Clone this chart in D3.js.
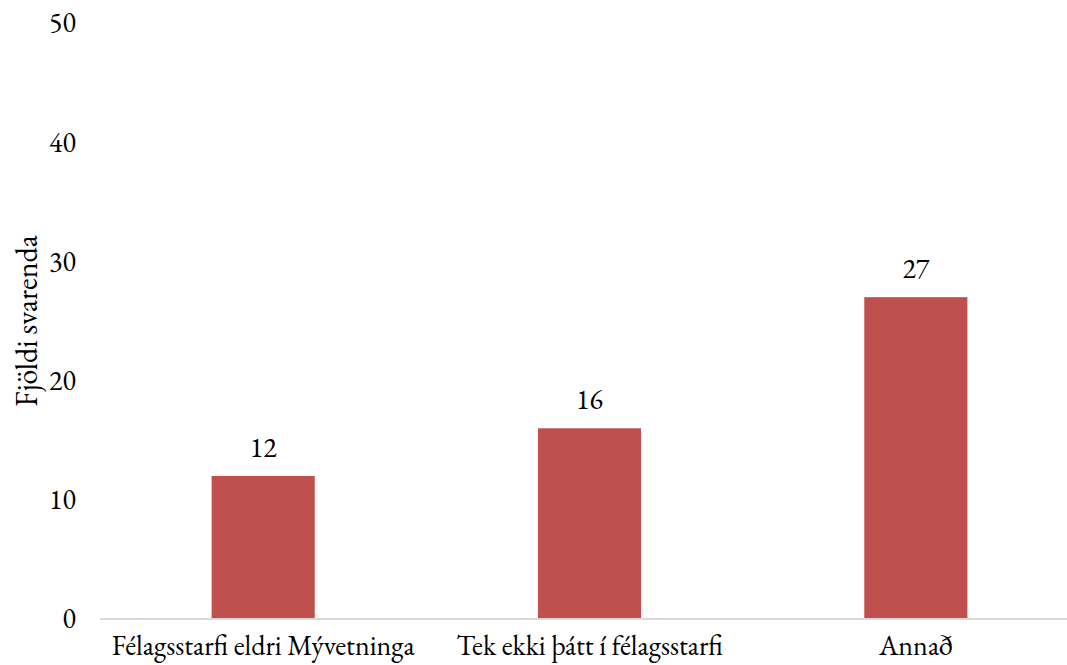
<!DOCTYPE html>
<html>
<head>
<meta charset="utf-8">
<title>Fjöldi svarenda</title>
<script src="https://d3js.org/d3.v7.min.js"></script>
<style>
  body { margin: 0; background: #fff; }
</style>
</head>
<body>
<svg id="chart" width="1067" height="665"></svg>
<script>
var categories = ["Félagsstarfi eldri Mývetninga", "Tek ekki þátt í félagsstarfi", "Annað"];
var values = [12, 16, 27];
var yTicks = [0, 10, 20, 30, 40, 50];

var svg = d3.select("#chart");

// plot area
var plotLeft = 100, plotRight = 1079, plotTop = 23, plotBottom = 619;
var fontSize = "28px";
var garamond = "'EB Garamond'";

var x = d3.scaleBand()
  .domain(categories)
  .range([plotLeft, plotRight])
  .paddingInner(0.684)
  .paddingOuter(0.342);

var y = d3.scaleLinear()
  .domain([0, 50])
  .range([plotBottom, plotTop]);

// y axis labels (no line, no ticks)
var yAxis = svg.append("g")
  .attr("transform", "translate(" + plotLeft + ",0)")
  .call(d3.axisLeft(y).tickValues(yTicks).tickSize(0).tickPadding(24));
yAxis.select(".domain").remove();
yAxis.selectAll("text")
  .style("font-size", fontSize)
  .style("font-family", garamond)
  .style("fill", "#000");

// bars
svg.selectAll(".bar")
  .data(values)
  .enter().append("rect")
  .attr("class", "bar")
  .attr("x", function(d, i) { return x(categories[i]); })
  .attr("y", function(d) { return y(d); })
  .attr("width", x.bandwidth())
  .attr("height", function(d) { return y(0) - y(d); })
  .style("fill", "#c0504d");

// x axis
var xAxis = svg.append("g")
  .attr("transform", "translate(0," + plotBottom + ")")
  .call(d3.axisBottom(x).tickSize(0).tickPadding(16));
xAxis.select(".domain")
  .attr("d", "M" + plotLeft + ",0H1067")
  .style("stroke", "#d9d9d9")
  .style("stroke-width", 2);
xAxis.selectAll("text")
  .style("font-size", fontSize)
  .style("font-family", garamond)
  .style("fill", "#000");

// value labels
svg.selectAll(".label")
  .data(values)
  .enter().append("text")
  .attr("class", "label")
  .attr("x", function(d, i) { return x(categories[i]) + x.bandwidth() / 2; })
  .attr("y", function(d) { return y(d) - 19; })
  .attr("text-anchor", "middle")
  .style("font-size", fontSize)
  .style("font-family", garamond)
  .text(function(d) { return d; });

// y axis title
svg.append("text")
  .attr("transform", "translate(37," + ((plotTop + plotBottom) / 2) + ") rotate(-90)")
  .attr("text-anchor", "middle")
  .style("font-size", "30px")
  .style("font-family", garamond)
  .text("Fjöldi svarenda");
</script>
</body>
</html>
